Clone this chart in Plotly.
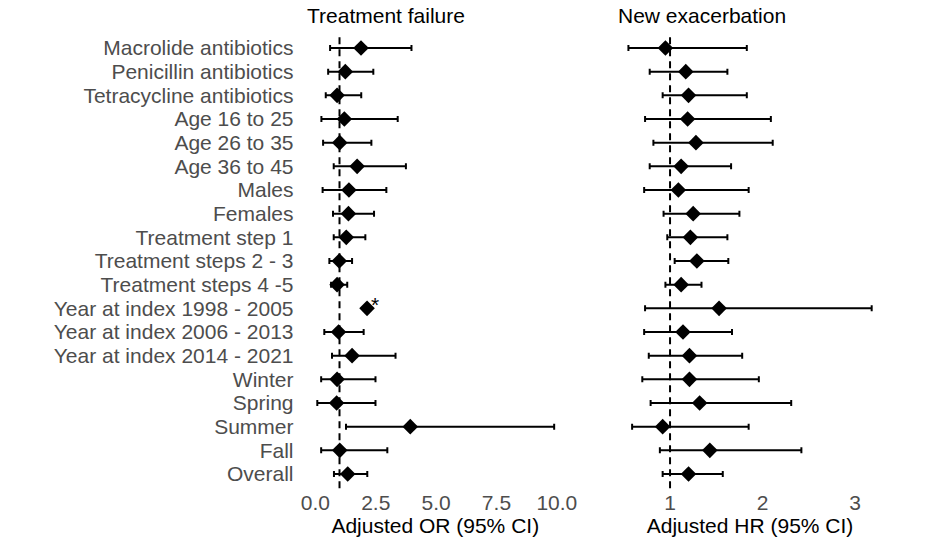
import plotly.graph_objects as go

categories = ["Macrolide antibiotics", "Penicillin antibiotics", "Tetracycline antibiotics",
              "Age 16 to 25", "Age 26 to 35", "Age 36 to 45", "Males", "Females",
              "Treatment step 1", "Treatment steps 2 - 3", "Treatment steps 4 -5",
              "Year at index 1998 - 2005", "Year at index 2006 - 2013", "Year at index 2014 - 2021",
              "Winter", "Spring", "Summer", "Fall", "Overall"]

# Treatment failure: adjusted OR (95% CI)
or_est = [1.89, 1.24, 0.90, 1.20, 1.01, 1.73, 1.39, 1.37, 1.28, 0.99, 0.90, 2.14, 0.96, 1.52, 0.90, 0.88, 3.93, 1.01, 1.34]
or_lo = [0.61, 0.53, 0.43, 0.25, 0.32, 0.76, 0.30, 0.73, 0.76, 0.58, 0.65, None, 0.37, 0.69, 0.24, 0.08, 1.27, 0.24, 0.77]
or_hi = [3.98, 2.40, 1.90, 3.41, 2.32, 3.75, 2.94, 2.43, 2.07, 1.52, 1.32, None, 2.00, 3.32, 2.49, 2.49, 9.89, 2.98, 2.15]

# New exacerbation: adjusted HR (95% CI)
hr_est = [0.95, 1.17, 1.20, 1.19, 1.28, 1.12, 1.09, 1.25, 1.22, 1.29, 1.12, 1.53, 1.14, 1.21, 1.21, 1.32, 0.92, 1.43, 1.20]
hr_lo = [0.55, 0.78, 0.92, 0.73, 0.82, 0.78, 0.72, 0.93, 0.97, 1.05, 0.95, 0.73, 0.72, 0.77, 0.70, 0.79, 0.59, 0.89, 0.92]
hr_hi = [1.83, 1.62, 1.83, 2.09, 2.11, 1.66, 1.85, 1.75, 1.62, 1.63, 1.34, 3.18, 1.67, 1.78, 1.96, 2.31, 1.85, 2.42, 1.57]

or_ticks = [0, 2.5, 5, 7.5, 10]
hr_ticks = [1, 2, 3]
ref_value = 1
star_label = "Year at index 1998 - 2005"

FONT = "Liberation Sans, Arial, sans-serif"
FS = 21
W, H = 936, 546


def errs(est, lo, hi):
    plus = [(h - e) if h is not None else float("nan") for e, h in zip(est, hi)]
    minus = [(e - l) if l is not None else float("nan") for e, l in zip(est, lo)]
    return plus, minus


fig = go.Figure()
for est, lo, hi, xa in [(or_est, or_lo, or_hi, "x"), (hr_est, hr_lo, hr_hi, "x2")]:
    plus, minus = errs(est, lo, hi)
    fig.add_trace(go.Scatter(
        x=est, y=categories, xaxis=xa, yaxis="y", mode="markers",
        marker=dict(symbol="diamond", size=12, color="black"),
        error_x=dict(type="data", symmetric=False, array=plus, arrayminus=minus,
                     color="black", thickness=2, width=3),
        showlegend=False, hoverinfo="skip"))

# pixel geometry
lp0, lp1 = 304.5, 566.0
rp0, rp1 = 616.4, 883.7
top_px, bot_px = 33.8, 488.2

fig.update_layout(
    width=W, height=H, margin=dict(l=0, r=0, t=0, b=0, autoexpand=False),
    paper_bgcolor="white", plot_bgcolor="white",
    font=dict(family=FONT, size=FS, color="#4d4d4d"),
    xaxis=dict(domain=[lp0 / W, lp1 / W], range=[-0.45, 10.38], tickvals=or_ticks,
               ticktext=[f"{v:.1f}" for v in or_ticks], showgrid=False, zeroline=False,
               showline=False, ticks="", automargin=False,
               tickfont=dict(size=FS, color="#4d4d4d"),
               title=dict(text="Adjusted OR (95% CI)", font=dict(size=FS, color="black"), standoff=4),
               anchor="y"),
    xaxis2=dict(domain=[rp0 / W, rp1 / W], range=[0.42, 3.31], tickvals=hr_ticks,
                showgrid=False, zeroline=False, showline=False, ticks="", automargin=False,
                tickfont=dict(size=FS, color="#4d4d4d"),
                title=dict(text="Adjusted HR (95% CI)", font=dict(size=FS, color="black"), standoff=4),
                anchor="y"),
    yaxis=dict(domain=[1 - bot_px / H, 1 - top_px / H], type="category",
               categoryorder="array", categoryarray=categories,
               tickmode="array", tickvals=categories, ticktext=categories,
               range=[len(categories) - 0.4, -0.6], showgrid=False, zeroline=False,
               showline=False, ticks="", ticklabelstandoff=10, automargin=False,
               tickfont=dict(size=FS, color="#4d4d4d")),
)

for xa in ["x", "x2"]:
    fig.add_shape(type="line", xref=xa, yref="paper", x0=ref_value, x1=ref_value,
                  y0=1 - bot_px / H, y1=1 - top_px / H,
                  line=dict(color="black", width=2, dash="7px,5px"), layer="below")

fig.add_annotation(text="Treatment failure", xref="x domain", yref="paper", x=0, y=1 - 15 / H,
                   xanchor="left", yanchor="middle", showarrow=False,
                   font=dict(size=FS, color="black", family=FONT))
fig.add_annotation(text="New exacerbation", xref="x2 domain", yref="paper", x=0, y=1 - 15 / H,
                   xanchor="left", yanchor="middle", showarrow=False,
                   font=dict(size=FS, color="black", family=FONT))

si = categories.index(star_label)
fig.add_annotation(text="*", xref="x", yref="y", x=or_est[si], y=categories[si],
                   xshift=8, yshift=4, showarrow=False, xanchor="center", yanchor="middle",
                   font=dict(size=FS, color="black", family=FONT))

fig.write_html("out.html", config={"displayModeBar": False},
               post_script="document.body.style.margin='0px';")
